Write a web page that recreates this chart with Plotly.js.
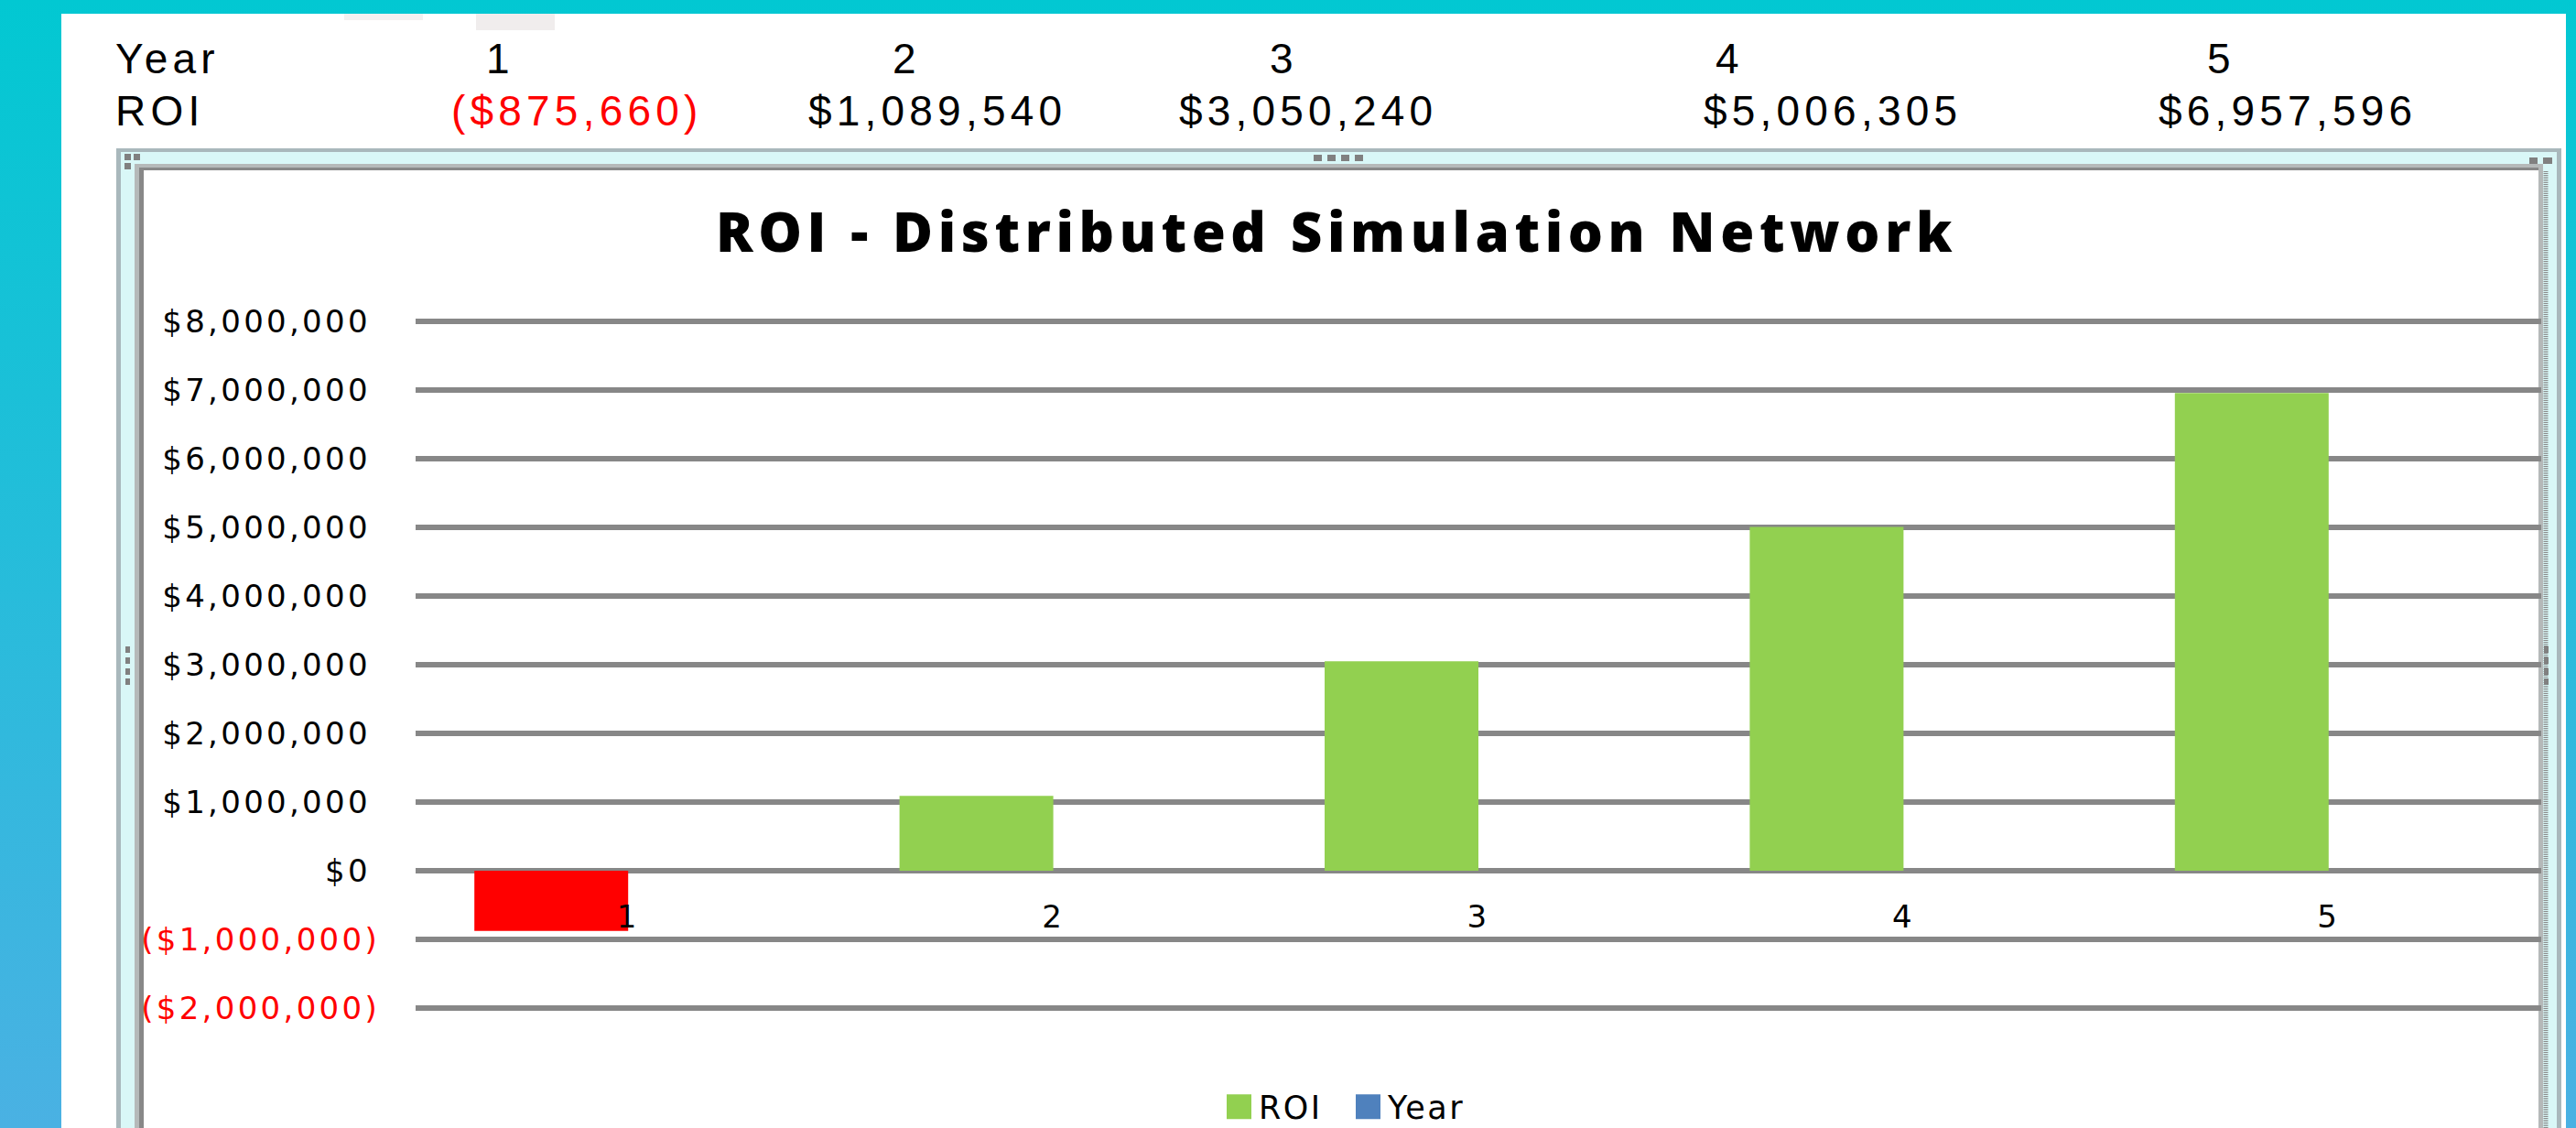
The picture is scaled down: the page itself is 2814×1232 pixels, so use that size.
<!DOCTYPE html>
<html>
<head>
<meta charset="utf-8">
<script src="https://cdn.plot.ly/plotly-3.0.1.min.js"></script>
<style>
  html, body { margin: 0; padding: 0; width: 2814px; height: 1232px; overflow: hidden;
    background: linear-gradient(to bottom, #02C8D2 0%, #4AB1E3 100%); }
  #chart { width: 2814px; height: 1232px; }
  .annotation-text { letter-spacing: 5.2px; }
  .gtitle { letter-spacing: 5.6px; }
  .ytick text, .xtick text { letter-spacing: 3.3px; }
  .legendtext { letter-spacing: 2.5px; }
</style>
</head>
<body>
<div id="chart"></div>
<script>
// ---------------- data ----------------
const categories = ['1', '2', '3', '4', '5'];
const years = [1, 2, 3, 4, 5];
const roi = [-875660, 1089540, 3050240, 5006305, 6957596];
const yTickVals = [-2000000, -1000000, 0, 1000000, 2000000, 3000000, 4000000, 5000000, 6000000, 7000000, 8000000];
const seriesNames = ['ROI', 'Year'];
const tableRowLabels = ['Year', 'ROI'];
const chartTitle = 'ROI - Distributed Simulation Network';

// ---------------- helpers ----------------
const W = 2814, H = 1232;
const M = { l: 454, r: 38, t: 348, b: 128, pad: 0, autoexpand: false };
const PW = W - M.l - M.r, PH = H - M.t - M.b;
const px = x => (x - M.l) / PW;
const py = y => (H - M.b - y) / PH;
const RED = '#FF0000', GREEN = '#92D050', BLUE = '#4F81BD', GRID = '#878787';

function money(v) {
  const s = '$' + Math.abs(v).toLocaleString('en-US');
  return v < 0 ? '(' + s + ')' : s;
}
function tickLabel(v) {
  return v < 0 ? '<span style="color:' + RED + '">' + money(v) + '</span>' : money(v) + '\u2009';
}
function rect(x0, y0, x1, y1, fill) {
  return { type: 'rect', xref: 'paper', yref: 'paper', layer: 'below',
    x0: px(x0), x1: px(x1), y0: py(y1), y1: py(y0),
    fillcolor: fill, line: { width: 0 } };
}

// axis range: the tick span plus a hair so the end gridlines are drawn
const pad = (yTickVals[yTickVals.length - 1] - yTickVals[0]) * 0.004;
const yMin = yTickVals[0] - pad, yMax = yTickVals[yTickVals.length - 1] + pad;

// Plotly takes a bar series' legend colour from its first point, so the ROI series is
// handed over starting at its first non-negative value; the axis keeps the category order.
const start = Math.max(0, roi.findIndex(v => v >= 0));
const order = categories.map((_, i) => (i + start) % categories.length);

// ---------------- traces ----------------
const traces = [
  { type: 'bar', name: seriesNames[0],
    x: order.map(i => categories[i]), y: order.map(i => roi[i]),
    marker: { color: order.map(i => roi[i] < 0 ? RED : GREEN) }, hoverinfo: 'skip' },
  { type: 'bar', name: seriesNames[1], x: categories, y: years,
    marker: { color: BLUE }, hoverinfo: 'skip' }
];

// ---------------- sheet decorations ----------------
const shapes = [
  rect(67, 15, 2803, 1240, '#FFFFFF'),
  rect(376, 15, 462, 22, '#F3F1F1'),
  rect(520, 15, 606, 33, '#F0EDED'),
  rect(127, 162, 2798, 1240, '#A9B8BC'),
  rect(132, 166, 2793, 1240, '#D9F7F7'),
  rect(147, 179, 2778, 1240, '#B5B9B9'),
  rect(152, 183, 2773, 1240, '#888888'),
  rect(157, 186, 2773, 1240, '#FFFFFF'),
  { type: 'line', xref: 'paper', yref: 'paper', layer: 'below',
    x0: px(2781), x1: px(2781), y0: py(1240), y1: py(186),
    line: { color: '#8A8A8A', width: 5, dash: '1px,1px' } }
];
[0, 1, 2, 3].forEach(i => shapes.push(rect(1435 + 15 * i, 169, 1444 + 15 * i, 176, '#808080')));
[706, 718, 730, 741].forEach(y => {
  shapes.push(rect(137, y, 142, y + 7, '#808080'));
  shapes.push(rect(2779, y, 2784, y + 7, '#808080'));
});
shapes.push(rect(136, 168, 143, 175, '#808080'), rect(146, 168, 153, 175, '#808080'), rect(136, 178, 143, 185, '#808080'));
shapes.push(rect(2763, 172, 2772, 179, '#808080'), rect(2778, 172, 2788, 179, '#808080'));

// ---------------- spreadsheet rows (annotations) ----------------
const tableFont = { family: 'Liberation Sans, Arial, sans-serif', size: 46, color: '#000000' };
const yearCenters = [546, 990, 1402, 1889, 2426];
const roiRights = [770, 1167, 1572, 2145, 2642];
const rowY = [64, 121];
const annotations = [];
tableRowLabels.forEach((t, r) => annotations.push({
  xref: 'paper', yref: 'paper', x: px(124), y: py(rowY[r]), xanchor: 'left', yanchor: 'middle',
  text: t, showarrow: false, font: tableFont }));
years.forEach((v, i) => annotations.push({
  xref: 'paper', yref: 'paper', x: px(yearCenters[i]), y: py(rowY[0]), xanchor: 'center', yanchor: 'middle',
  text: String(v), showarrow: false, font: tableFont }));
roi.forEach((v, i) => annotations.push({
  xref: 'paper', yref: 'paper', x: px(roiRights[i]), y: py(rowY[1]), xanchor: 'right', yanchor: 'middle',
  text: money(v), showarrow: false, font: Object.assign({}, tableFont, { color: v < 0 ? RED : '#000000' }) }));

// ---------------- layout ----------------
const tickFont = { family: 'DejaVu Sans, sans-serif', size: 34, color: '#000000' };
const layout = {
  width: W, height: H, margin: M,
  paper_bgcolor: 'rgba(0,0,0,0)', plot_bgcolor: 'rgba(0,0,0,0)',
  title: { text: chartTitle, xref: 'container', yref: 'container', x: 1460 / W, xanchor: 'center',
    y: 1 - 254 / H, yanchor: 'middle',
    font: { family: 'Open Sans, sans-serif', size: 60, weight: 800, color: '#000000' } },
  barmode: 'group', bargap: 0.2765, bargroupgap: 0,
  xaxis: { type: 'category', categoryorder: 'array', categoryarray: categories,
    anchor: 'free', position: (0 - yMin) / (yMax - yMin),
    showgrid: false, zeroline: false, showline: false, ticks: '',
    ticklabelstandoff: 27, tickfont: tickFont, fixedrange: true },
  yaxis: { range: [yMin, yMax], tickmode: 'array', tickvals: yTickVals, ticktext: yTickVals.map(tickLabel),
    showgrid: true, gridcolor: GRID, gridwidth: 6,
    zeroline: true, zerolinecolor: GRID, zerolinewidth: 6,
    showline: false, ticks: '', ticklabelstandoff: 38, tickfont: tickFont, fixedrange: true },
  showlegend: true,
  legend: { orientation: 'h', xref: 'paper', yref: 'paper', x: px(1335), xanchor: 'left',
    y: py(1209), yanchor: 'middle', bgcolor: 'rgba(0,0,0,0)', borderwidth: 0,
    itemwidth: 30, entrywidth: 96, traceorder: 'normal',
    font: { family: 'DejaVu Sans, sans-serif', size: 35, color: '#000000' } },
  shapes: shapes,
  annotations: annotations
};

Plotly.newPlot('chart', traces, layout, { displayModeBar: false, staticPlot: true }).then(gd => {
  // Excel-sized legend keys (Plotly's bar key is a fixed 12px square)
  gd.querySelectorAll('g.legendpoints path').forEach(p => p.setAttribute('d', 'M12,13.5H-15V-13.5H12Z'));
});
</script>
</body>
</html>
